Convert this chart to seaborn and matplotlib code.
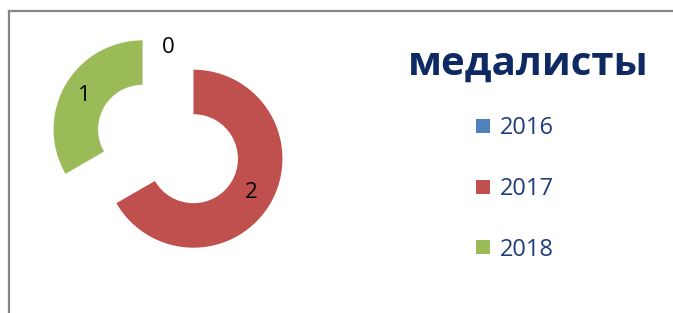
import matplotlib
matplotlib.use("Agg")
import matplotlib.pyplot as plt
import seaborn as sns
from matplotlib.lines import Line2D

# данные
years = ["2016", "2017", "2018"]
medalists = [0, 2, 1]
colors = ["#4F81BD", "#C0504D", "#9BBB59"]
title = "медалисты"

sns.set_theme(style="white")
plt.rcParams['font.family'] = ['Open Sans', 'DejaVu Sans']

fig = plt.figure(figsize=(6.73, 3.13), dpi=100)
fig.patch.set_facecolor("white")

# рамка области диаграммы (видны только левая и верхняя стороны)
x0, y0 = 8.5 / 673, 1 - 11 / 313
fig.add_artist(Line2D([x0, x0], [-0.1, y0], transform=fig.transFigure,
                      color="#868686", linewidth=1.6, solid_capstyle="projecting"))
fig.add_artist(Line2D([x0, 1.1], [y0, y0], transform=fig.transFigure,
                      color="#868686", linewidth=1.6, solid_capstyle="projecting"))

ax = fig.add_axes([0.0513, 0.1134, 0.3967, 0.853])
wedges, texts, autotexts = ax.pie(
    medalists, colors=colors, startangle=90, counterclock=False,
    explode=[0.33] * len(medalists), radius=1,
    wedgeprops=dict(width=0.5, linewidth=0),
    autopct=lambda p: f"{round(p * sum(medalists) / 100):d}",
    pctdistance=0.75,
    textprops=dict(fontsize=16, color="black"))
ax.set_xlim(-1.5, 1.5)
ax.set_ylim(-1.5, 1.5)
ax.set_aspect("equal")
ax.axis("off")

fig.text(528 / 673, 1 - 64 / 313, title, ha="center", va="center",
         fontsize=29, fontweight="bold", color="#0F2A63")

handles = [Line2D([0], [0], marker="s", linestyle="", markersize=10,
                  markerfacecolor=c, markeredgewidth=0) for c in colors]
leg = fig.legend(handles, years, loc="center left",
                 bbox_to_anchor=(462 / 673, 1 - 189 / 313),
                 frameon=False, fontsize=17, labelspacing=1.55,
                 handlelength=0.8, handletextpad=0.3, borderpad=0)
for t in leg.get_texts():
    t.set_color("#1F3D7A")

fig.savefig("out.png", dpi=100, facecolor="white")
